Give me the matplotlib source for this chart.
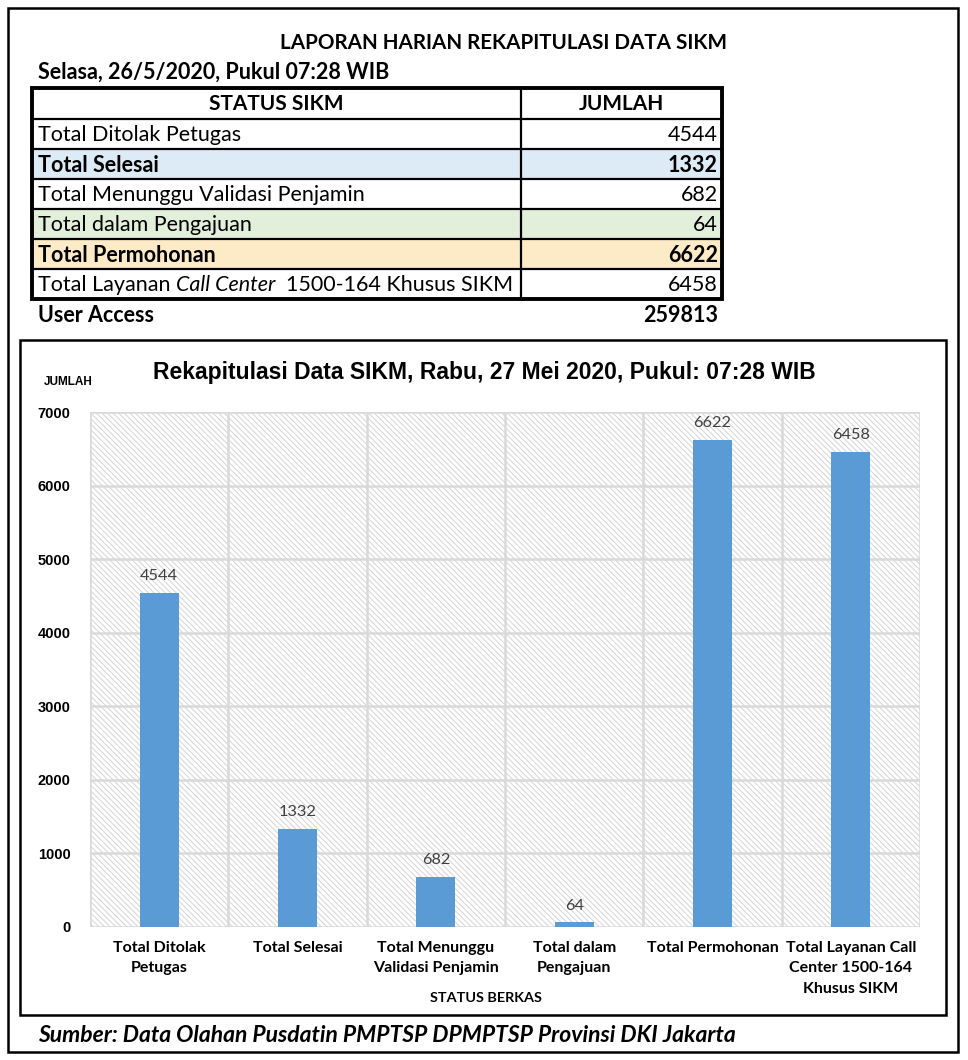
import matplotlib.pyplot as plt
from matplotlib.patches import Rectangle

# data
status = ["Total Ditolak Petugas", "Total Selesai", "Total Menunggu Validasi Penjamin",
          "Total dalam Pengajuan", "Total Permohonan",
          ["Total Layanan ", "Call Center", "  1500-164 Khusus SIKM"]]
jumlah = [4544, 1332, 682, 64, 6622, 6458]
bold_rows = [False, True, False, False, True, False]
row_colors = ["white", "#ddebf7", "white", "#e2efda", "#fdebc8", "white"]
user_access = 259813

categories = ["Total Ditolak\nPetugas", "Total Selesai", "Total Menunggu\nValidasi Penjamin",
              "Total dalam\nPengajuan", "Total Permohonan", "Total Layanan Call\nCenter 1500-164\nKhusus SIKM"]
yticks = [0, 1000, 2000, 3000, 4000, 5000, 6000, 7000]

cal = ["Lato", "DejaVu Sans"]
arial = ["Liberation Sans", "DejaVu Sans"]
fs = 15.5

fig = plt.figure(figsize=(9.68, 10.6), dpi=100)
bg = fig.add_axes([0, 0, 1, 1])
bg.set_xlim(0, 968)
bg.set_ylim(1060, 0)
bg.axis("off")
renderer = fig.canvas.get_renderer()

# outer frames
bg.add_patch(Rectangle((8, 8), 950, 1044, fill=False, lw=1.8, ec="black"))
bg.add_patch(Rectangle((20, 340), 926, 675, fill=False, lw=1.8, ec="black"))

bg.text(504, 43, "LAPORAN HARIAN REKAPITULASI DATA SIKM", ha="center", va="center",
        fontsize=14.9, fontweight="bold", family=cal)
bg.text(38, 72, "Selasa, 26/5/2020, Pukul 07:28 WIB", ha="left", va="center",
        fontsize=fs, fontweight="bold", family=cal)

# table
tx0, tx1, tsplit = 32, 722, 521
ty0, hh, rh = 88, 31, 30
bg.text((tx0 + tsplit) / 2, ty0 + hh / 2, "STATUS SIKM", ha="center", va="center",
        fontsize=15, fontweight="bold", family=cal)
bg.text((tsplit + tx1) / 2, ty0 + hh / 2, "JUMLAH", ha="center", va="center",
        fontsize=15, fontweight="bold", family=cal)
for i, (s, v) in enumerate(zip(status, jumlah)):
    y = ty0 + hh + i * rh
    bg.add_patch(Rectangle((tx0, y), tx1 - tx0, rh, fc=row_colors[i], ec="none", zorder=0))
    w = "bold" if bold_rows[i] else "normal"
    if isinstance(s, list):
        xp = 38
        for j, part in enumerate(s):
            st = "italic" if j == 1 else "normal"
            t = bg.text(xp, y + rh / 2 + 1, part, ha="left", va="center", fontsize=fs,
                        fontweight=w, style=st, family=cal)
            ext = t.get_window_extent(renderer)
            xp += ext.width
    else:
        bg.text(38, y + rh / 2 + 1, s, ha="left", va="center", fontsize=fs, fontweight=w, family=cal)
    bg.text(tx1 - 4, y + rh / 2 + 1, str(v), ha="right", va="center", fontsize=fs,
            fontweight=w, family=cal)
ty1 = ty0 + hh + len(status) * rh
for i in range(len(status)):
    y = ty0 + hh + i * rh
    bg.plot([tx0, tx1], [y, y], color="black", lw=1.6)
bg.plot([tsplit, tsplit], [ty0, ty1], color="black", lw=1.6)
bg.add_patch(Rectangle((tx0, ty0), tx1 - tx0, ty1 - ty0, fill=False, lw=2.8, ec="black"))

bg.text(38, 316, "User Access", ha="left", va="center", fontsize=fs, fontweight="bold", family=cal)
bg.text(tx1 - 4, 316, str(user_access), ha="right", va="center", fontsize=fs,
        fontweight="bold", family=cal)

# chart
bg.text(484, 372, "Rekapitulasi Data SIKM, Rabu, 27 Mei 2020, Pukul: 07:28 WIB",
        ha="center", va="center", fontsize=16.5, fontweight="bold", family=arial)
bg.text(68, 382, "JUMLAH", ha="center", va="center", fontsize=8.5, fontweight="bold", family=arial)
bg.text(486, 998, "STATUS BERKAS", ha="center", va="center", fontsize=10.4, fontweight="bold", family=cal)
bg.text(38, 1035, "Sumber: Data Olahan Pusdatin PMPTSP DPMPTSP Provinsi DKI Jakarta",
        ha="left", va="center", fontsize=16.5, fontweight="bold", style="italic", family=cal)

plt.rcParams["hatch.linewidth"] = 0.7
ax = fig.add_axes([90 / 968, 133 / 1060, 830 / 968, 515 / 1060])
x = list(range(len(categories)))
ax.set_xlim(-0.5, len(categories) - 0.5)
ax.set_ylim(0, 7000)
ax.add_patch(Rectangle((0, 0), 1, 1, transform=ax.transAxes, fc="white", ec="#d4d4d4", lw=0,
                       hatch="\\\\\\\\\\\\", zorder=0))
for yv in yticks:
    ax.axhline(yv, color="#d9d9d9", lw=1.8, zorder=1)
for xv in [i - 0.5 for i in range(len(categories) + 1)]:
    ax.axvline(xv, color="#d9d9d9", lw=1.8, zorder=1)
bars = ax.bar(x, jumlah, width=0.28, color="#5b9bd5", zorder=2)
for xi, v in zip(x, jumlah):
    ax.text(xi, v + 130, str(v), ha="center", va="bottom", fontsize=11.8, color="#404040", family=cal)
for s in ax.spines.values():
    s.set_visible(False)
ax.set_yticks(yticks)
ax.set_yticklabels([str(v) for v in yticks], fontsize=10.5, fontweight="bold", family=arial)
ax.set_xticks(x)
ax.set_xticklabels(categories, fontsize=11.5, fontweight="bold", family=cal, linespacing=1.6)
ax.tick_params(length=0, pad=10)
ax.tick_params(axis="y", pad=14)

fig.savefig("out.png", dpi=100)
